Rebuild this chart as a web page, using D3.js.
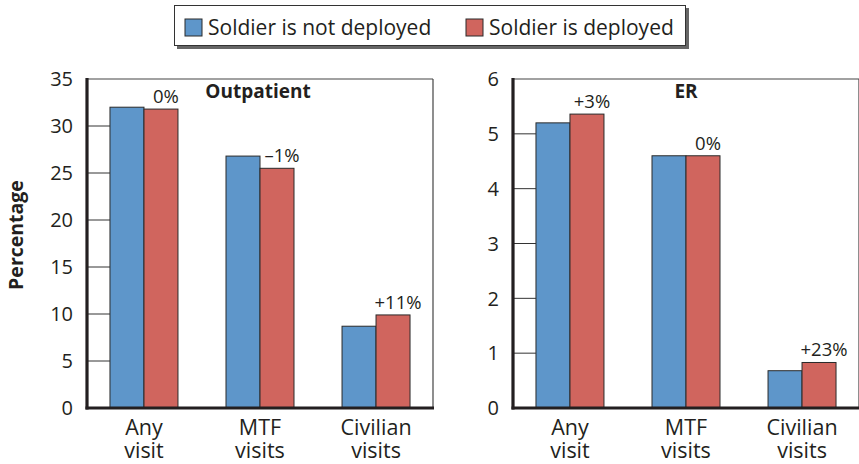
<!DOCTYPE html>
<html><head><meta charset="utf-8">
<script src="https://cdn.jsdelivr.net/npm/d3@7"></script>
<style>
html,body{margin:0;padding:0;background:#fff;}
svg{display:block;font-family:"Open Sans",sans-serif;}
</style></head>
<body>
<svg id="chart" width="859" height="464"></svg>
<script>
const categories = [["Any","visit"],["MTF","visits"],["Civilian","visits"]];
const seriesNames = ["Soldier is not deployed","Soldier is deployed"];
const outNotDeployed = [32.0, 26.8, 8.7];
const outDeployed = [31.8, 25.5, 9.9];
const outChange = ["0%","\u20131%","+11%"];
const erNotDeployed = [5.2, 4.6, 0.68];
const erDeployed = [5.36, 4.6, 0.83];
const erChange = ["+3%","0%","+23%"];
const outTicks = [0,5,10,15,20,25,30,35];
const erTicks = [0,1,2,3,4,5,6];

const colors = ["#5e96ca","#d0655e"];
const svg = d3.select("#chart");

function panel(opts){
  const {x0,x1,yTop,yBot,max,ticks,a,b,changes,title} = opts;
  const g = svg.append("g");
  const y = d3.scaleLinear().domain([0,max]).range([yBot,yTop]);
  const xb = d3.scaleBand().domain(d3.range(categories.length)).range([x0,x1])
    .paddingInner(0.414).paddingOuter(0.198);
  const xs = d3.scaleBand().domain([0,1]).range([0,xb.bandwidth()]);
  const firstBar = xb(0);
  g.append("line").attr("x1",x0).attr("x2",x1).attr("y1",yTop).attr("y2",yTop)
    .attr("stroke","#444").attr("stroke-width",1.2);
  g.append("line").attr("x1",x1).attr("x2",x1).attr("y1",yTop).attr("y2",yBot)
    .attr("stroke","#444").attr("stroke-width",1.2);
  g.selectAll("line.tk").data(ticks.filter(t=>t>0 && t<max)).enter().append("line")
    .attr("x1",x0).attr("x2",firstBar).attr("y1",d=>y(d)).attr("y2",d=>y(d))
    .attr("stroke","#333").attr("stroke-width",1);
  g.selectAll("text.tl").data(ticks).enter().append("text")
    .attr("x",x0-14).attr("y",d=>y(d)).attr("dy","0.36em")
    .attr("text-anchor","end").attr("font-size",20).attr("fill","#231f20")
    .text(d=>d);
  const data = categories.map((c,i)=>({i,v:[a[i],b[i]],chg:changes[i]}));
  const grp = g.selectAll("g.cat").data(data).enter().append("g")
    .attr("transform",d=>`translate(${xb(d.i)},0)`);
  grp.selectAll("rect").data(d=>d.v.map((v,k)=>({v,k}))).enter().append("rect")
    .attr("x",d=>xs(d.k)).attr("width",xs.bandwidth())
    .attr("y",d=>y(d.v)).attr("height",d=>yBot-y(d.v))
    .attr("fill",d=>colors[d.k]).attr("stroke","#2a2a2a").attr("stroke-width",1);
  grp.append("text")
    .attr("x",d=>xs(1)+xs.bandwidth()/2+5)
    .attr("y",d=>y(d.v[1])-6)
    .attr("text-anchor","middle").attr("font-size",18.5).attr("fill","#231f20")
    .text(d=>d.chg);
  grp.append("text").attr("text-anchor","middle").attr("font-size",21.5).attr("fill","#231f20")
    .attr("x",xb.bandwidth()/2).attr("y",yBot+27).text(d=>categories[d.i][0]);
  grp.append("text").attr("text-anchor","middle").attr("font-size",21.5).attr("fill","#231f20")
    .attr("x",xb.bandwidth()/2).attr("y",yBot+50).text(d=>categories[d.i][1]);
  g.append("line").attr("x1",x0).attr("x2",x0).attr("y1",yTop-1).attr("y2",yBot+1.5)
    .attr("stroke","#231f20").attr("stroke-width",3.2);
  g.append("line").attr("x1",x0-1.5).attr("x2",x1+1).attr("y1",yBot).attr("y2",yBot)
    .attr("stroke","#231f20").attr("stroke-width",3.2);
  g.append("text").attr("x",opts.titleX).attr("y",yTop+19).attr("text-anchor","middle")
    .attr("font-size",19).attr("font-weight","bold").attr("fill","#231f20").text(title);
}

panel({x0:87,x1:433,yTop:79,yBot:408,max:35,ticks:outTicks,a:outNotDeployed,b:outDeployed,changes:outChange,title:"Outpatient",titleX:258});
panel({x0:513,x1:859,yTop:79,yBot:408,max:6,ticks:erTicks,a:erNotDeployed,b:erDeployed,changes:erChange,title:"ER",titleX:686});

svg.append("text").attr("transform","translate(23,235) rotate(-90)")
  .attr("text-anchor","middle").attr("font-size",19.5).attr("font-weight","bold")
  .attr("fill","#231f20").text("Percentage");

const lg = svg.append("g");
lg.append("rect").attr("x",177).attr("y",8).attr("width",512).attr("height",41).attr("fill","#666");
lg.append("rect").attr("x",174.5).attr("y",5.5).attr("width",511).attr("height",40)
  .attr("fill","#fff").attr("stroke","#333").attr("stroke-width",1);
const lx = [185,466];
seriesNames.forEach((n,k)=>{
  lg.append("rect").attr("x",lx[k]).attr("y",19).attr("width",17).attr("height",17)
    .attr("fill",colors[k]).attr("stroke","#2a2a2a").attr("stroke-width",1);
  lg.append("text").attr("x",lx[k]+23).attr("y",35).attr("font-size",21).attr("fill","#231f20").text(n);
});
</script>
</body></html>
